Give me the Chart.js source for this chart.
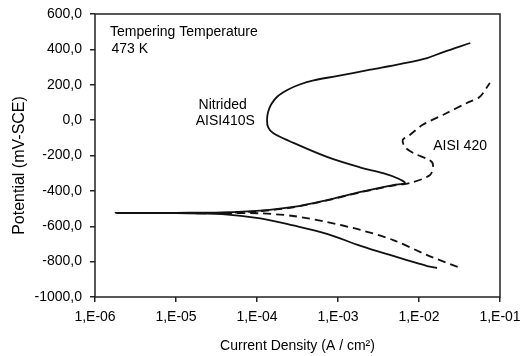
<!DOCTYPE html>
<html>
<head>
<meta charset="utf-8">
<script src="https://cdn.jsdelivr.net/npm/chart.js@4.4.1/dist/chart.umd.min.js"></script>
<style>
  html, body { margin: 0; padding: 0; background: #fff; }
</style>
</head>
<body>
<canvas id="graphCanvas" width="521" height="356"></canvas>
<script>
// Nitrided AISI410S (solid): cathodic end -> Ecorr -> anodic branch
const solidX = [1.67e-2, 1.26e-2, 9.5e-3, 4.8e-3, 1.9e-3, 7.3e-4, 2.8e-4, 1.1e-4, 3.7e-5, 1.0e-5, 1.8e-6,
                1.0e-5, 3.7e-5, 1.1e-4, 2.8e-4, 7.3e-4, 1.9e-3, 4.8e-3, 6.7e-3, 5.5e-3, 3.6e-3, 1.9e-3,
                7.3e-4, 2.5e-4, 1.58e-4, 1.37e-4, 1.33e-4, 1.37e-4, 1.5e-4, 1.8e-4, 2.4e-4, 3.3e-4,
                5.0e-4, 1.0e-3, 2.5e-3, 6.0e-3, 1.26e-2, 2.0e-2, 4.3e-2];
const solidY = [-836, -825, -808, -768, -711, -643, -595, -555, -531, -526, -525,
                -524, -522, -512, -491, -452, -406, -367, -356, -330, -300, -268,
                -208, -118, -73, -39, 0, 46, 90, 135, 172, 200,
                225, 250, 285, 318, 351, 385, 436];

// AISI 420 (dashed)
const dashX = [3.0e-2, 1.26e-2, 4.8e-3, 1.9e-3, 7.3e-4, 2.8e-4, 1.1e-4, 3.7e-5, 1.7e-5,
               3.7e-5, 1.1e-4, 2.8e-4, 7.3e-4, 1.9e-3, 4.8e-3, 7.7e-3, 1.37e-2, 1.49e-2, 1.37e-2,
               8.5e-3, 6.7e-3, 6.3e-3, 7.7e-3, 1.1e-2, 2.2e-2, 3.9e-2, 5.6e-2, 7.5e-2];
const dashY = [-830, -763, -678, -621, -576, -542, -527, -526, -527,
               -525, -514, -493, -454, -408, -370, -356, -310, -254, -228,
               -186, -152, -112, -84, -28, 40, 97, 131, 210];

const xTickValues = [1e-6, 1e-5, 1e-4, 1e-3, 1e-2, 1e-1];
const xTickLabels = ['1,E-06', '1,E-05', '1,E-04', '1,E-03', '1,E-02', '1,E-01'];
const yTickValues = [-1000, -800, -600, -400, -200, 0, 200, 400, 600];
const yTickLabels = ['-1000,0', '-800,0', '-600,0', '-400,0', '-200,0', '0,0', '200,0', '400,0', '600,0'];

const xTitle = 'Current Density (A / cm\u00B2)';
const yTitle = 'Potential (mV-SCE)';

// text notes placed in data coordinates
const notes = [
    { text: 'Tempering Temperature', x: 1.53e-6, y: 500 },
    { text: '473 K', x: 1.6e-6, y: 403 },
    { text: 'Nitrided', x: 1.9e-5, y: 85 },
    { text: 'AISI410S', x: 1.75e-5, y: -5 },
    { text: 'AISI 420', x: 1.5e-2, y: -146 }
];

const fontFamily = '"Liberation Sans", Arial, sans-serif';
const ink = '#000';

function toPoints(xs, ys) {
    return xs.map(function(x, i) { return { x: x, y: ys[i] }; });
}

const extrasPlugin = {
    id: 'extras',
    afterDraw(chart) {
        const ctx = chart.ctx;
        const a = chart.chartArea;
        const sx = chart.scales.x, sy = chart.scales.y;
        ctx.save();
        // frame round the plot
        ctx.strokeStyle = '#222';
        ctx.lineWidth = 1.5;
        ctx.strokeRect(a.left, a.top, a.right - a.left, a.bottom - a.top);

        ctx.fillStyle = ink;
        ctx.font = '14px ' + fontFamily;
        ctx.textBaseline = 'middle';
        ctx.textAlign = 'left';
        notes.forEach(function(n) {
            ctx.fillText(n.text, sx.getPixelForValue(n.x), sy.getPixelForValue(n.y));
        });

        // y axis title
        ctx.translate(20, (a.top + a.bottom) / 2 + 10);
        ctx.rotate(-Math.PI / 2);
        ctx.textAlign = 'center';
        ctx.font = '16px ' + fontFamily;
        ctx.fillText(yTitle, 0, 0);
        ctx.restore();
    }
};

const lineCanvas = document.getElementById('graphCanvas').getContext('2d');
const chart = new Chart(lineCanvas, {
    type: 'scatter',
    data: {
        datasets: [{
            label: 'Nitrided AISI410S',
            data: toPoints(solidX, solidY),
            showLine: true,
            borderColor: '#111',
            borderWidth: 1.8,
            pointRadius: 0,
            tension: 0.35
        }, {
            label: 'AISI 420',
            data: toPoints(dashX, dashY),
            showLine: true,
            borderColor: '#111',
            borderWidth: 1.8,
            borderDash: [8, 5],
            pointRadius: 0,
            tension: 0.3
        }]
    },
    options: {
        responsive: false,
        animation: false,
        layout: { padding: { top: 14, right: 21, left: 0, bottom: 0 } },
        plugins: {
            legend: { display: false },
            tooltip: { enabled: false }
        },
        scales: {
            x: {
                type: 'logarithmic',
                min: 1e-6,
                max: 1e-1,
                border: { display: false },
                grid: { drawOnChartArea: false, drawTicks: true, tickLength: 5, color: '#222', lineWidth: 1.5 },
                afterBuildTicks: function(scale) {
                    scale.ticks = xTickValues.map(function(v) { return { value: v }; });
                },
                ticks: {
                    autoSkip: false,
                    maxRotation: 0,
                    padding: 7,
                    color: ink,
                    font: { family: fontFamily, size: 14 },
                    callback: function(v, i) { return xTickLabels[i]; }
                },
                title: {
                    display: true,
                    text: xTitle,
                    color: ink,
                    font: { family: fontFamily, size: 14 },
                    padding: { top: 0, bottom: 1 }
                },
                afterFit: function(scale) {
                    scale.height = 59;
                    scale.paddingLeft = 0;
                    scale.paddingRight = 0;
                }
            },
            y: {
                min: -1000,
                max: 600,
                border: { display: false },
                grid: { drawOnChartArea: false, drawTicks: true, tickLength: 5, color: '#222', lineWidth: 1.5 },
                afterBuildTicks: function(scale) {
                    scale.ticks = yTickValues.map(function(v) { return { value: v }; });
                },
                ticks: {
                    autoSkip: false,
                    padding: 8,
                    color: ink,
                    font: { family: fontFamily, size: 14 },
                    callback: function(v, i) { return yTickLabels[i]; }
                },
                afterFit: function(scale) {
                    scale.width = 95;
                    scale.paddingTop = 0;
                    scale.paddingBottom = 0;
                }
            }
        }
    },
    plugins: [extrasPlugin]
});
</script>
</body>
</html>
